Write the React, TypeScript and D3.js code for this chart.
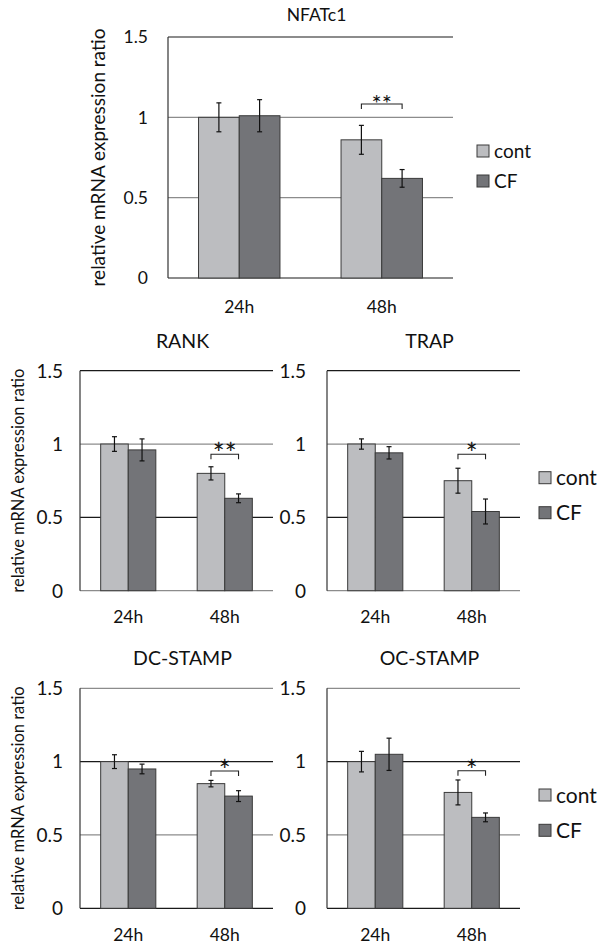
import React from 'react';
import * as d3 from 'd3';

const categories = ['24h', '48h'];
const seriesNames = ['cont', 'CF'];
const genes = ['NFATc1', 'RANK', 'TRAP', 'DC-STAMP', 'OC-STAMP'];
const contMeans = [[1.0, 0.86], [1.0, 0.8], [1.0, 0.75], [1.0, 0.85], [1.0, 0.79]];
const contErrors = [[0.09, 0.09], [0.05, 0.045], [0.035, 0.085], [0.047, 0.022], [0.07, 0.085]];
const cfMeans = [[1.01, 0.62], [0.96, 0.63], [0.94, 0.54], [0.95, 0.765], [1.05, 0.62]];
const cfErrors = [[0.1, 0.055], [0.075, 0.03], [0.042, 0.085], [0.033, 0.037], [0.11, 0.03]];
const significance = ['**', '**', '*', '*', '*'];
const bracketLevels = [1.083, 0.93, 0.93, 0.936, 0.938];
const yTicks = [0, 0.5, 1, 1.5];
const yTickLabels = ['0', '0.5', '1', '1.5'];
const axisTitle = 'relative mRNA expression ratio';

const FONT = 'Lato, "Open Sans", sans-serif';
const contColor = '#bcbdc0';
const cfColor = '#737478';
const barStroke = '#3a3a3a';
const DARK = '#1a1a1a';
const GRAY = '#8c8c8c';

type Layout = {
  left: number; right: number; top: number; bottom: number;
  tickSize: number; tickGap: number; titleSize: number; titleY: number;
  xLabelY: number; xLabelSize: number;
  axisTitle?: { x: number; size: number };
  legend?: { x: number; y: number; sq: number; size: number; dy: number };
  grid: string[]; starSize: number; starDy: number;
};

const layouts: Layout[] = [
  { left: 168, right: 453, top: 37, bottom: 278, tickSize: 17.5, tickGap: 20, titleSize: 17.5, titleY: 21,
    xLabelY: 313, xLabelSize: 17.5, axisTitle: { x: 97, size: 19 },
    legend: { x: 477, y: 145, sq: 12, size: 19, dy: 30 }, grid: [DARK, GRAY, GRAY, DARK], starSize: 24, starDy: 8 },
  { left: 80, right: 273, top: 370.7, bottom: 590.7, tickSize: 19, tickGap: 17, titleSize: 19.5, titleY: 348.3,
    xLabelY: 623, xLabelSize: 17.5, axisTitle: { x: 18, size: 16.5 }, grid: [GRAY, DARK, GRAY, DARK], starSize: 28, starDy: 10 },
  { left: 327, right: 520, top: 370.7, bottom: 590.7, tickSize: 19, tickGap: 21, titleSize: 19.5, titleY: 348.3,
    xLabelY: 623, xLabelSize: 17.5, legend: { x: 539, y: 471.7, sq: 12, size: 21, dy: 35 },
    grid: [GRAY, DARK, GRAY, DARK], starSize: 28, starDy: 10 },
  { left: 80, right: 273, top: 688.3, bottom: 908.3, tickSize: 19, tickGap: 17, titleSize: 19.5, titleY: 665,
    xLabelY: 941, xLabelSize: 17.5, axisTitle: { x: 18, size: 16.5 }, grid: [DARK, GRAY, DARK, GRAY], starSize: 28, starDy: 10 },
  { left: 327, right: 520, top: 688.3, bottom: 908.3, tickSize: 19, tickGap: 21, titleSize: 19.5, titleY: 665,
    xLabelY: 941, xLabelSize: 17.5, legend: { x: 539, y: 789, sq: 12, size: 21, dy: 35.3 },
    grid: [DARK, GRAY, DARK, GRAY], starSize: 28, starDy: 10 },
];

function Panel({ idx }: { idx: number }) {
  const L = layouts[idx];
  const y = d3.scaleLinear().domain([0, 1.5]).range([L.bottom, L.top]);
  const gap = 1.5 / 3.5;
  const x0 = d3.scaleBand<string>().domain(categories).range([L.left, L.right]).paddingInner(gap).paddingOuter(gap / 2);
  const x1 = d3.scaleBand<string>().domain(seriesNames).range([0, x0.bandwidth()]);
  const means = [contMeans[idx], cfMeans[idx]];
  const errs = [contErrors[idx], cfErrors[idx]];
  const colors = [contColor, cfColor];
  const cx = (L.left + L.right) / 2 + 6;

  const bx = (c: number, s: number) => (x0(categories[c]) as number) + (x1(seriesNames[s]) as number);
  const bw = x1.bandwidth();
  const br = y(bracketLevels[idx]);
  const bLeft = bx(1, 0) + bw / 2;
  const bRight = bx(1, 1) + bw / 2;

  return (
    <g fontFamily={FONT}>
      <text x={cx} y={L.titleY} textAnchor="middle" fontSize={L.titleSize} fill="#111">{genes[idx]}</text>
      {yTicks.map((t, i) => (
        <g key={'g' + i}>
          <line x1={L.left} x2={L.right} y1={y(t)} y2={y(t)} stroke={L.grid[i]} strokeWidth={1.2} />
          <text x={L.left - L.tickGap} y={y(t)} dy="0.36em" textAnchor="end" fontSize={L.tickSize} fill="#111">{yTickLabels[i]}</text>
        </g>
      ))}
      <line x1={L.left} x2={L.left} y1={L.top} y2={L.bottom} stroke="#333" strokeWidth={1.2} />
      {categories.map((c, ci) => seriesNames.map((s, si) => {
        const v = means[si][ci];
        const e = errs[si][ci];
        const xb = bx(ci, si);
        const xm = xb + bw / 2;
        return (
          <g key={c + s}>
            <rect x={xb} y={y(v)} width={bw} height={y(0) - y(v)} fill={colors[si]} stroke={barStroke} strokeWidth={1} />
            <line x1={xm} x2={xm} y1={y(v + e)} y2={y(v - e)} stroke="#111" strokeWidth={1.2} />
            <line x1={xm - 2.5} x2={xm + 2.5} y1={y(v + e)} y2={y(v + e)} stroke="#111" strokeWidth={1.2} />
            <line x1={xm - 2.5} x2={xm + 2.5} y1={y(v - e)} y2={y(v - e)} stroke="#111" strokeWidth={1.2} />
          </g>
        );
      }))}
      <path d={`M${bLeft},${br + 5}V${br}H${bRight}V${br + 5}`} fill="none" stroke="#222" strokeWidth={1.1} />
      <text x={(bLeft + bRight) / 2} y={br + L.starDy} textAnchor="middle" fontSize={L.starSize} fill="#111">{significance[idx]}</text>
      {categories.map((c) => (
        <text key={'x' + c} x={(x0(c) as number) + x0.bandwidth() / 2} y={L.xLabelY} textAnchor="middle" fontSize={L.xLabelSize} fill="#111">{c}</text>
      ))}
      {L.axisTitle && (
        <text transform={`translate(${L.axisTitle.x},${(L.top + L.bottom) / 2}) rotate(-90)`} textAnchor="middle" dominantBaseline="central" fontSize={L.axisTitle.size} fill="#111">{axisTitle}</text>
      )}
      {L.legend && seriesNames.map((s, si) => {
        const lg = L.legend!;
        const yy = lg.y + si * lg.dy;
        return (
          <g key={'lg' + s}>
            <rect x={lg.x} y={yy} width={lg.sq} height={lg.sq} fill={colors[si]} stroke={barStroke} strokeWidth={1} />
            <text x={lg.x + lg.sq + 5} y={yy + lg.sq / 2} dy="0.36em" fontSize={lg.size} fill="#111">{s}</text>
          </g>
        );
      })}
    </g>
  );
}

export default function App() {
  return (
    <svg width={613} height={946} style={{ position: 'absolute', left: 0, top: 0, background: '#fff' }}>
      <rect x={0} y={0} width={613} height={946} fill="#fff" />
      {genes.map((g, i) => <Panel key={g} idx={i} />)}
    </svg>
  );
}
